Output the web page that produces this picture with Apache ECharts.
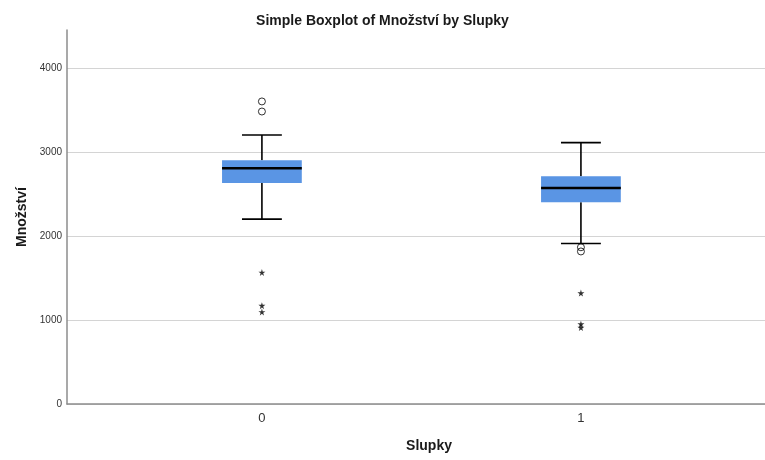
<!DOCTYPE html>
<html>
<head>
<meta charset="utf-8">
<script src="https://cdn.jsdelivr.net/npm/echarts@6/dist/echarts.min.js"></script>
<style>
  html, body { margin: 0; padding: 0; background: #ffffff; }
  #chart { width: 765px; height: 460px; }
</style>
</head>
<body>
<div id="chart"></div>
<script>
// ---- data ----
var categories = [0, 1];
var categoryLabels = ['0', '1'];
var whiskerLow = [2200, 1910];
var q1 = [2630, 2400];
var median = [2805, 2570];
var q3 = [2900, 2710];
var whiskerHigh = [3200, 3110];
var outliers0 = [3600, 3480];
var outliers1 = [1865, 1815];
var extremes0 = [1565, 1170, 1095];
var extremes1 = [1320, 950, 910];
var yTicks = [0, 1000, 2000, 3000, 4000];

var FONT = 'Liberation Sans, Arial, sans-serif';
var BOX_COLOR = '#5a95e4';

var boxData = categories.map(function (c, i) {
  return [c, whiskerLow[i], q1[i], median[i], q3[i], whiskerHigh[i]];
});
var circleData = []
  .concat(outliers0.map(function (v) { return [categories[0], v]; }))
  .concat(outliers1.map(function (v) { return [categories[1], v]; }));
var starData = []
  .concat(extremes0.map(function (v) { return [categories[0], v]; }))
  .concat(extremes1.map(function (v) { return [categories[1], v]; }));

function renderBox(params, api) {
  var x = api.value(0);
  var lo = api.coord([x, api.value(1)]);
  var b1 = api.coord([x, api.value(2)]);
  var md = api.coord([x, api.value(3)]);
  var b3 = api.coord([x, api.value(4)]);
  var hi = api.coord([x, api.value(5)]);
  var boxW = api.size([0.25, 0])[0];
  var capW = api.size([0.125, 0])[0];
  var cx = lo[0];
  var lineStyle = { stroke: '#000', lineWidth: 1.6 };
  return {
    type: 'group',
    children: [
      { type: 'line', shape: { x1: cx, y1: hi[1], x2: cx, y2: b3[1] }, style: lineStyle },
      { type: 'line', shape: { x1: cx, y1: b1[1], x2: cx, y2: lo[1] }, style: lineStyle },
      { type: 'line', shape: { x1: cx - capW / 2, y1: hi[1], x2: cx + capW / 2, y2: hi[1] }, style: lineStyle },
      { type: 'line', shape: { x1: cx - capW / 2, y1: lo[1], x2: cx + capW / 2, y2: lo[1] }, style: lineStyle },
      { type: 'rect', shape: { x: cx - boxW / 2, y: b3[1], width: boxW, height: b1[1] - b3[1] }, style: { fill: BOX_COLOR } },
      { type: 'line', shape: { x1: cx - boxW / 2, y1: md[1], x2: cx + boxW / 2, y2: md[1] }, style: { stroke: '#000', lineWidth: 2.6 } }
    ]
  };
}

var chart = echarts.init(document.getElementById('chart'), null, { renderer: 'canvas' });
chart.setOption({
  backgroundColor: '#ffffff',
  animation: false,
  title: {
    text: 'Simple Boxplot of Množství by Slupky',
    left: 'center',
    top: 9,
    textStyle: { fontFamily: FONT, fontSize: 14, fontWeight: 'bold', color: '#1a1a1a' }
  },
  grid: { left: 67, right: 0, top: 30, bottom: 56, containLabel: false },
  xAxis: {
    type: 'value',
    min: -0.611,
    max: 1.577,
    name: 'Slupky',
    nameLocation: 'middle',
    nameGap: 35,
    nameTextStyle: { fontFamily: FONT, fontSize: 14, fontWeight: 'bold', color: '#1a1a1a', padding: [0, 0, 0, 26] },
    axisLine: { show: true, onZero: false, lineStyle: { color: '#8c8c8c', width: 1.5 } },
    axisTick: { show: false, customValues: categories },
    axisLabel: {
      customValues: categories,
      formatter: function (v) { return categoryLabels[categories.indexOf(v)]; },
      fontFamily: FONT, fontSize: 13, color: '#333', margin: 8
    },
    splitLine: { show: false }
  },
  yAxis: {
    type: 'value',
    min: 0,
    max: 4450,
    name: 'Množství',
    nameLocation: 'middle',
    nameGap: 37,
    nameTextStyle: { fontFamily: FONT, fontSize: 14, fontWeight: 'bold', color: '#1a1a1a' },
    axisLine: { show: true, onZero: false, lineStyle: { color: '#8c8c8c', width: 1.5 } },
    axisTick: { show: false, customValues: yTicks },
    axisLabel: {
      customValues: yTicks,
      formatter: function (v) { return String(v); },
      fontFamily: FONT, fontSize: 10, color: '#333', margin: 5
    },
    splitLine: { show: true, lineStyle: { color: '#d4d4d4', width: 1 } }
  },
  series: [
    {
      type: 'custom',
      renderItem: renderBox,
      data: boxData,
      encode: { x: 0, y: [1, 2, 3, 4, 5] },
      z: 3
    },
    {
      type: 'scatter',
      data: circleData,
      symbol: 'circle',
      symbolSize: 7,
      itemStyle: { color: 'rgba(255,255,255,0)', borderColor: '#000', borderWidth: 1 },
      z: 4
    },
    {
      type: 'scatter',
      data: starData,
      symbol: 'path://M50,0 L61,35 L98,35 L68,57 L79,91 L50,70 L21,91 L32,57 L2,35 L39,35 Z',
      symbolSize: 7,
      itemStyle: { color: '#000' },
      z: 4
    }
  ]
});
</script>
</body>
</html>
